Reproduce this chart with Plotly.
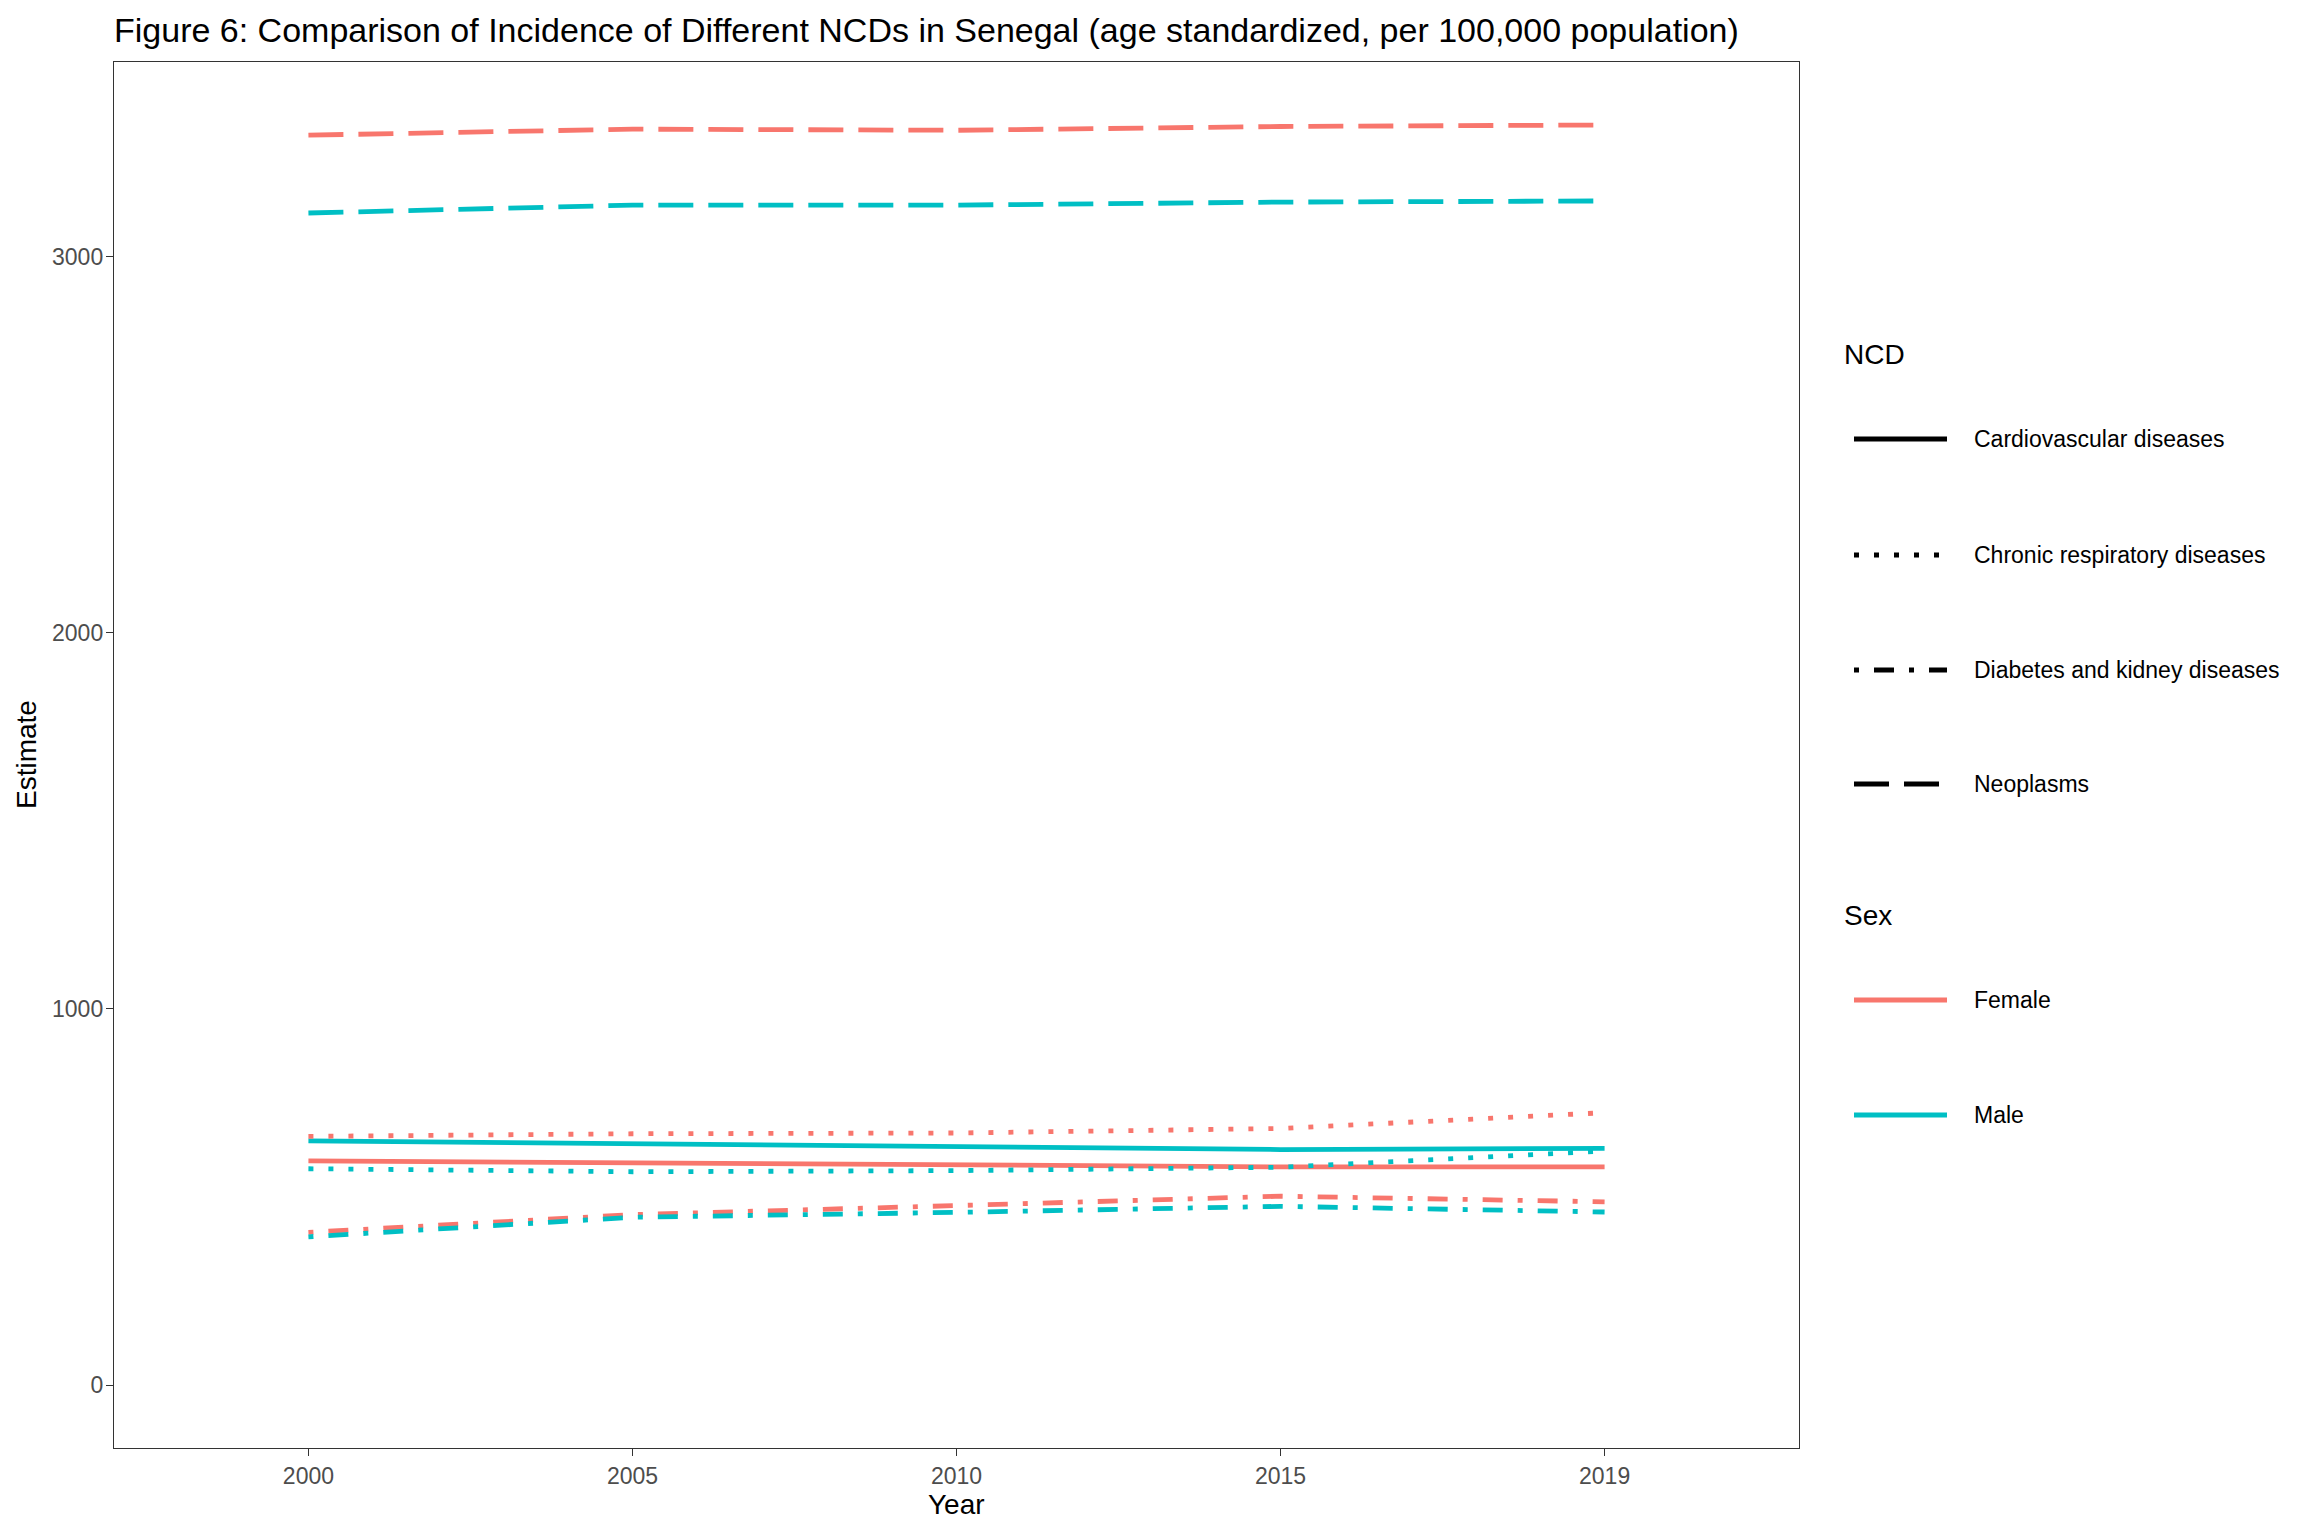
import plotly.graph_objects as go

# ---------------- data ----------------
years = ["2000", "2005", "2010", "2015", "2019"]
ncd_names = ["Cardiovascular diseases", "Chronic respiratory diseases",
             "Diabetes and kidney diseases", "Neoplasms"]
sex_names = ["Female", "Male"]

cvd_female = [596, 590, 585, 580, 580]
cvd_male = [649, 641, 635, 626, 629]
crd_female = [661, 668, 670, 682, 724]
crd_male = [575, 567, 570, 579, 622]
dkd_female = [406, 453, 477, 502, 487]
dkd_male = [394, 446, 459, 475, 460]
neo_female = [3323, 3339, 3336, 3346, 3350]
neo_male = [3116, 3137, 3137, 3145, 3148]

y_ticks = [0, 1000, 2000, 3000]

series = {
    ("Cardiovascular diseases", "Female"): cvd_female,
    ("Cardiovascular diseases", "Male"): cvd_male,
    ("Chronic respiratory diseases", "Female"): crd_female,
    ("Chronic respiratory diseases", "Male"): crd_male,
    ("Diabetes and kidney diseases", "Female"): dkd_female,
    ("Diabetes and kidney diseases", "Male"): dkd_male,
    ("Neoplasms", "Female"): neo_female,
    ("Neoplasms", "Male"): neo_male,
}

# ---------------- styles ----------------
OFF = 8  # browser default body margin
W, H = 2304 - 2 * OFF, 1536 - 2 * OFF
# plot panel edges in page pixels, converted to figure pixels
L, R, T, B = 114 - OFF, 1799 - OFF, 62 - OFF, 1448 - OFF
FONT = "Liberation Sans, Arial, sans-serif"
colors = {"Female": "#F8766D", "Male": "#00BFC4"}
dashes = {
    "Cardiovascular diseases": "solid",
    "Chronic respiratory diseases": "5px,15px",
    "Diabetes and kidney diseases": "5px,15px,20px,15px",
    "Neoplasms": "35px,15px",
}
LW = 4.8


def px_x(x):
    """page x pixel -> paper coordinate"""
    return (x - OFF - L) / (R - L)


def px_y(y):
    """page y pixel -> paper coordinate"""
    return (B - (y - OFF)) / (B - T)


fig = go.Figure()
for (ncd, sex), vals in series.items():
    fig.add_trace(go.Scatter(
        x=years, y=vals, mode="lines", name=f"{ncd}, {sex}",
        line=dict(color=colors[sex], width=LW, dash=dashes[ncd]),
        showlegend=False,
    ))

# ---------------- manual legend (ggplot style) ----------------
shapes = []
annotations = []
key_x0, key_x1, lab_x, title_x = 1854, 1947, 1972, 1842
ncd_title_y = 354
ncd_item_y = [439, 555, 670, 784]
sex_title_y = 915
sex_item_y = [1000, 1115]

annotations.append(dict(text="NCD", x=px_x(title_x), y=px_y(ncd_title_y),
                        xref="paper", yref="paper", xanchor="left", yanchor="middle",
                        showarrow=False, font=dict(family=FONT, size=28, color="black")))
for name, yy in zip(ncd_names, ncd_item_y):
    shapes.append(dict(type="line", xref="paper", yref="paper",
                       x0=px_x(key_x0), x1=px_x(key_x1), y0=px_y(yy), y1=px_y(yy),
                       line=dict(color="black", width=LW, dash=dashes[name])))
    annotations.append(dict(text=name, x=px_x(lab_x), y=px_y(yy),
                            xref="paper", yref="paper", xanchor="left", yanchor="middle",
                            showarrow=False, font=dict(family=FONT, size=23, color="black")))

annotations.append(dict(text="Sex", x=px_x(title_x), y=px_y(sex_title_y),
                        xref="paper", yref="paper", xanchor="left", yanchor="middle",
                        showarrow=False, font=dict(family=FONT, size=28, color="black")))
for name, yy in zip(sex_names, sex_item_y):
    shapes.append(dict(type="line", xref="paper", yref="paper",
                       x0=px_x(key_x0), x1=px_x(key_x1), y0=px_y(yy), y1=px_y(yy),
                       line=dict(color=colors[name], width=LW)))
    annotations.append(dict(text=name, x=px_x(lab_x), y=px_y(yy),
                            xref="paper", yref="paper", xanchor="left", yanchor="middle",
                            showarrow=False, font=dict(family=FONT, size=23, color="black")))

# axis titles
annotations.append(dict(text="Year", x=0.5, y=px_y(1504), xref="paper", yref="paper",
                        xanchor="center", yanchor="middle", showarrow=False,
                        font=dict(family=FONT, size=28, color="black")))
annotations.append(dict(text="Estimate", x=px_x(26), y=0.5, xref="paper", yref="paper",
                        xanchor="center", yanchor="middle", showarrow=False, textangle=-90,
                        font=dict(family=FONT, size=28, color="black")))

axis_common = dict(
    showline=True, mirror=True, linecolor="#333333", linewidth=1.4,
    ticks="outside", ticklen=7, tickwidth=1.4, tickcolor="#333333",
    tickfont=dict(family=FONT, size=23, color="#4D4D4D"),
    showgrid=False, zeroline=False,
)

fig.update_layout(
    width=W, height=H,
    margin=dict(l=L, r=W - R, t=T, b=H - B, autoexpand=False),
    paper_bgcolor="white", plot_bgcolor="white",
    title=dict(text="Figure 6: Comparison of Incidence of Different NCDs in Senegal (age standardized, per 100,000 population)",
               x=(114 - OFF) / W, xanchor="left", xref="container",
               y=1 - (30 - OFF) / H, yanchor="middle", yref="container",
               font=dict(family=FONT, size=34, color="black")),
    xaxis=dict(type="category", categoryorder="array", categoryarray=years,
               range=[-0.6, len(years) - 1 + 0.6], **axis_common),
    yaxis=dict(range=[-167.5, 3517.5], tickvals=y_ticks,
               ticktext=[str(v) for v in y_ticks], ticklabelstandoff=-2,
               **axis_common),
    shapes=shapes, annotations=annotations,
    showlegend=False,
)

fig.write_html("out.html")
